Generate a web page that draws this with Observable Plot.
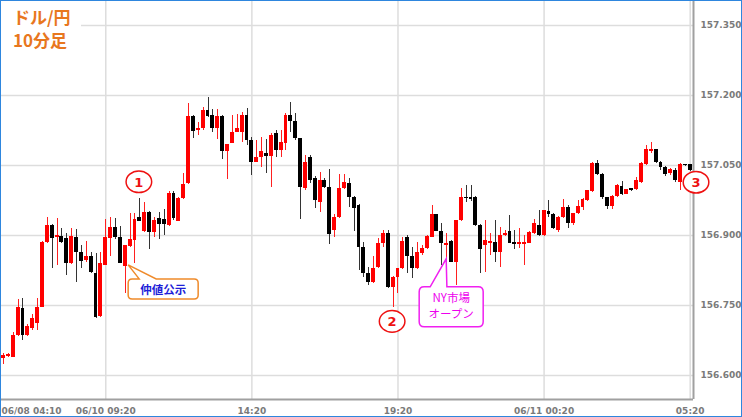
<!DOCTYPE html>
<html><head><meta charset="utf-8">
<script src="https://cdn.jsdelivr.net/npm/d3@7"></script>
<script src="https://cdn.jsdelivr.net/npm/@observablehq/plot@0.6"></script>
<style>
html,body{margin:0;padding:0;background:#fff;}
#wrap{position:relative;width:742px;height:417px;overflow:hidden;background:#fff;}
#chart{position:absolute;left:0;top:0;}
#border{position:absolute;left:0;top:0;width:740px;height:415px;border:1px solid #2e86de;pointer-events:none;}
#title{position:absolute;left:1px;top:1px;background:#fff;padding:4px 10px 6px 12px;color:#e8771e;font-family:"Noto Sans CJK JP";font-weight:bold;font-size:17px;line-height:23px;}
</style></head><body>
<div id="wrap"><div id="chart"></div><div id="title">ドル/円<br>10分足</div><div id="border"></div></div>
<script>
// 10-minute candles, USD/JPY
const opens = [156.637,156.641,156.639,156.686,156.744,156.686,156.701,156.711,156.746,156.886,
156.921,156.896,156.898,156.894,156.840,156.896,156.864,156.846,156.855,156.819,
156.726,156.836,156.894,156.918,156.896,156.834,156.876,156.889,156.938,156.909,
156.950,156.906,156.936,156.934,156.921,156.989,156.930,156.979,157.011,157.156,
157.124,157.129,157.168,157.157,157.129,157.156,157.079,157.098,157.121,157.121,
157.157,157.104,157.057,157.067,157.075,157.069,157.118,157.082,157.098,157.157,
157.145,157.107,157.000,157.067,157.022,156.971,157.018,157.003,156.911,156.938,
157.000,157.012,156.982,156.964,156.875,156.818,156.800,156.832,156.882,156.904,
156.789,156.811,156.829,156.896,156.855,156.829,156.862,156.872,156.896,156.944,
156.909,156.879,156.887,156.843,156.932,156.982,156.981,156.982,156.921,156.879,
156.883,156.885,156.864,156.900,156.909,156.886,156.881,156.881,156.883,156.904,
156.922,156.899,156.952,156.945,156.911,156.939,156.961,156.925,156.948,156.959,
156.975,156.995,157.054,157.031,156.981,156.962,156.984,157.005,156.988,157.000,
156.998,157.014,157.052,157.079,157.084,157.057,157.046,157.032,157.039,157.014,
157.052,157.052];
const highs = [156.648,156.647,156.693,156.763,156.764,156.709,156.731,156.764,156.887,156.939,
156.924,156.936,156.915,156.904,156.915,156.913,156.879,156.888,156.864,156.861,
156.864,156.934,156.939,156.936,156.919,156.879,156.947,156.948,156.979,156.971,
156.951,156.939,156.950,156.955,156.994,156.994,156.982,157.032,157.182,157.157,
157.142,157.175,157.196,157.170,157.170,157.157,157.095,157.157,157.159,157.164,
157.172,157.111,157.104,157.111,157.105,157.119,157.124,157.125,157.161,157.186,
157.161,157.108,157.071,157.071,157.026,157.036,157.022,157.041,156.946,157.030,
157.030,157.022,156.983,156.966,156.886,156.832,156.854,156.893,156.911,156.911,
156.812,156.829,156.896,156.900,156.875,156.886,156.879,156.899,156.964,156.945,
156.925,156.904,156.889,156.933,157.000,157.007,157.007,156.983,156.924,156.932,
156.905,156.932,156.917,156.911,156.943,156.911,156.916,156.900,156.909,156.934,
156.954,156.954,156.974,156.947,156.941,156.977,156.964,156.947,156.975,156.979,
156.996,157.057,157.061,157.032,156.982,156.986,157.009,157.016,156.999,157.001,
157.024,157.057,157.093,157.100,157.084,157.059,157.048,157.044,157.044,157.054,
157.053,157.053];
const lows = [156.624,156.639,156.639,156.684,156.675,156.684,156.696,156.696,156.745,156.883,
156.829,156.836,156.883,156.814,156.838,156.800,156.829,156.843,156.819,156.722,
156.725,156.835,156.854,156.891,156.839,156.775,156.875,156.841,156.929,156.906,
156.870,156.896,156.891,156.900,156.920,156.932,156.929,156.977,157.009,157.107,
157.114,157.125,157.153,157.121,157.106,157.063,157.020,157.097,157.121,157.100,
157.093,157.029,157.056,157.046,157.032,157.003,157.068,157.068,157.082,157.121,
157.104,156.934,156.996,157.011,156.957,156.950,157.000,156.881,156.896,156.936,
156.998,156.961,156.909,156.825,156.811,156.793,156.797,156.830,156.875,156.786,
156.746,156.775,156.827,156.818,156.807,156.827,156.857,156.870,156.896,156.908,
156.836,156.836,156.842,156.793,156.931,156.971,156.972,156.919,156.818,156.821,
156.857,156.842,156.832,156.898,156.882,156.871,156.872,156.836,156.882,156.902,
156.898,156.897,156.939,156.913,156.907,156.936,156.914,156.921,156.946,156.954,
156.973,156.993,157.029,156.977,156.955,156.955,156.981,156.986,156.987,156.995,
156.996,157.011,157.050,157.075,157.055,157.039,157.026,157.029,157.014,156.996,
157.048,157.038];
const closes = [156.643,156.645,156.686,156.746,156.686,156.704,156.722,156.746,156.886,156.921,
156.894,156.900,156.886,156.840,156.898,156.864,156.844,156.855,156.820,156.725,
156.840,156.896,156.917,156.896,156.840,156.878,156.891,156.934,156.931,156.950,
156.907,156.932,156.923,156.923,156.989,156.936,156.980,157.009,157.156,157.123,
157.129,157.168,157.154,157.129,157.156,157.079,157.094,157.121,157.129,157.157,
157.104,157.057,157.068,157.081,157.069,157.114,157.082,157.100,157.157,157.145,
157.107,157.003,157.057,157.018,156.974,157.018,157.002,156.902,156.938,157.000,
157.014,156.982,156.957,156.875,156.818,156.800,156.829,156.883,156.904,156.789,
156.811,156.829,156.887,156.854,156.829,156.864,156.872,156.898,156.944,156.909,
156.882,156.882,156.843,156.932,156.982,156.979,156.978,156.921,156.871,156.889,
156.887,156.864,156.900,156.905,156.883,156.881,156.884,156.884,156.907,156.925,
156.899,156.953,156.945,156.914,156.939,156.959,156.925,156.947,156.962,156.977,
156.996,157.054,157.031,156.981,156.962,156.984,157.007,156.988,156.998,156.996,
157.018,157.054,157.084,157.084,157.057,157.046,157.031,157.041,157.018,157.052,
157.049,157.039];

const yTicks = [156.600, 156.750, 156.900, 157.050, 157.200, 157.350];
const firstLabel = "06/08 04:10";
const xTickIdx = [21, 51, 81, 111, 141];
const xTickLabels = ["06/10 09:20", "14:20", "19:20", "06/11 00:20", "05:20"];
const xGridIdx = [21, 51, 81, 111, 141];

// annotations (anchored on candle index / price)
const markIdx = [27.9, 79.9, 142.3];
const markPrice = [157.014, 156.715, 157.013];
const markLabels = ["1", "2", "3"];
const calloutTexts = [["仲値公示"], ["NY市場", "オープン"]];
const calloutIdx = [25.7, 91];
const calloutPrice = [156.836, 156.849];

const candles = opens.map((o, i) => ({i, o, h: highs[i], l: lows[i], c: closes[i]}));
const ups = candles.filter(d => d.c >= d.o);
const downs = candles.filter(d => d.c < d.o);
const labelOf = new Map(xTickIdx.map((v, k) => [v, xTickLabels[k]]));

const xMin = -0.616, xMax = 141.68, yMin = 156.5486, yMax = 157.4036;
const tickStyle = {fontSize: 9, fontWeight: "bold", fill: "#7a7a7a"};

const plot = Plot.plot({
  width: 742, height: 417,
  marginLeft: 0, marginRight: 49, marginTop: 0, marginBottom: 18,
  x: {type: "linear", domain: [xMin, xMax], axis: null, label: null},
  y: {domain: [yMin, yMax], axis: null, label: null},
  style: {fontFamily: "DejaVu Sans", background: "white", overflow: "visible"},
  marks: [
    Plot.gridY(yTicks, {stroke: "#dddddd", strokeOpacity: 1, strokeWidth: 1.5}),
    Plot.gridX(xGridIdx, {stroke: "#dddddd", strokeOpacity: 1, strokeWidth: 1.5}),
    Plot.ruleX(downs, {x: "i", y1: "l", y2: "h", stroke: "#333", strokeWidth: 1, shapeRendering: "crispEdges"}),
    Plot.ruleX(ups, {x: "i", y1: "l", y2: "h", stroke: "#ff2020", strokeWidth: 1, shapeRendering: "crispEdges"}),
    Plot.rect(downs, {x1: d => d.i - 0.4, x2: d => d.i + 0.4, y1: "o", y2: "c", fill: "#000", shapeRendering: "crispEdges"}),
    Plot.rect(ups, {x1: d => d.i - 0.4, x2: d => d.i + 0.4, y1: "o", y2: "c", fill: "#ff0000", shapeRendering: "crispEdges"}),
    Plot.ruleX([xMax], {stroke: "#a0a0a0", strokeWidth: 2}),
    Plot.ruleY([yMin], {stroke: "#a0a0a0", strokeWidth: 2}),
    Plot.axisY(yTicks, {anchor: "right", label: null, tickSize: 0, tickPadding: 7, tickFormat: d3.format(".3f"), ...tickStyle}),
    Plot.axisX(xTickIdx, {anchor: "bottom", label: null, tickSize: 0, tickPadding: 8, tickFormat: d => labelOf.get(d), ...tickStyle}),
    Plot.text([firstLabel], {x: xMin, y: yMin, text: d => d, textAnchor: "start", lineAnchor: "top", dx: 1, dy: 8, ...tickStyle})
  ]
});

const sx = plot.scale("x"), sy = plot.scale("y");
const X = v => sx.apply(v), Y = v => sy.apply(v);
const svg = d3.select(plot);
const g = svg.append("g");

// callouts
function bubble(left, top, w, h, r, b1, b2, tx, ty) {
  const right = left + w, bottom = top + h;
  return `M${left + r},${top} L${b1},${top} L${tx},${ty} L${b2},${top} L${right - r},${top} Q${right},${top} ${right},${top + r} L${right},${bottom - r} Q${right},${bottom} ${right - r},${bottom} L${left + r},${bottom} Q${left},${bottom} ${left},${bottom - r} L${left},${top + r} Q${left},${top} ${left + r},${top} Z`;
}
{
  const tx = X(calloutIdx[0]), ty = Y(calloutPrice[0]);
  const left = tx, top = ty + 14, w = 70, h = 20;
  g.append("path").attr("d", bubble(left, top, w, h, 4, tx + 11, tx + 28, tx, ty))
    .attr("fill", "#fff").attr("stroke", "#ef8a2a").attr("stroke-width", 1.5);
  g.append("text").attr("x", left + w / 2).attr("y", top + h / 2 + 0.5)
    .attr("text-anchor", "middle").attr("dominant-baseline", "central")
    .attr("font-family", "Noto Sans CJK JP").attr("font-weight", "bold").attr("font-size", 11.5)
    .attr("fill", "#1e1ed8").text(calloutTexts[0][0]);
}
{
  const tx = X(calloutIdx[1]), ty = Y(calloutPrice[1]);
  const left = tx - 27, top = ty + 28, w = 64, h = 40;
  g.append("path").attr("d", bubble(left, top, w, h, 5, tx - 16, tx + 0.7, tx, ty))
    .attr("fill", "#fff").attr("stroke", "#f020f0").attr("stroke-width", 1.5);
  calloutTexts[1].forEach((t, k) => {
    g.append("text").attr("x", left + w / 2).attr("y", top + 10.5 + k * 15.5)
      .attr("text-anchor", "middle").attr("dominant-baseline", "central")
      .attr("font-family", "Noto Sans CJK JP").attr("font-size", 11.5)
      .attr("fill", "#ee00ee").text(t);
  });
}
// circled numbers
markIdx.forEach((v, k) => {
  const cx = X(v), cy = Y(markPrice[k]);
  g.append("ellipse").attr("cx", cx).attr("cy", cy).attr("rx", 12.8).attr("ry", 10.8)
    .attr("fill", "#fff").attr("stroke", "#ee1111").attr("stroke-width", 1.5);
  g.append("text").attr("x", cx).attr("y", cy + 0.5).attr("text-anchor", "middle")
    .attr("dominant-baseline", "central").attr("font-family", "DejaVu Sans")
    .attr("font-weight", "bold").attr("font-size", 13).attr("fill", "#ee1111").text(markLabels[k]);
});

document.getElementById("chart").appendChild(plot);
</script>
</body></html>
